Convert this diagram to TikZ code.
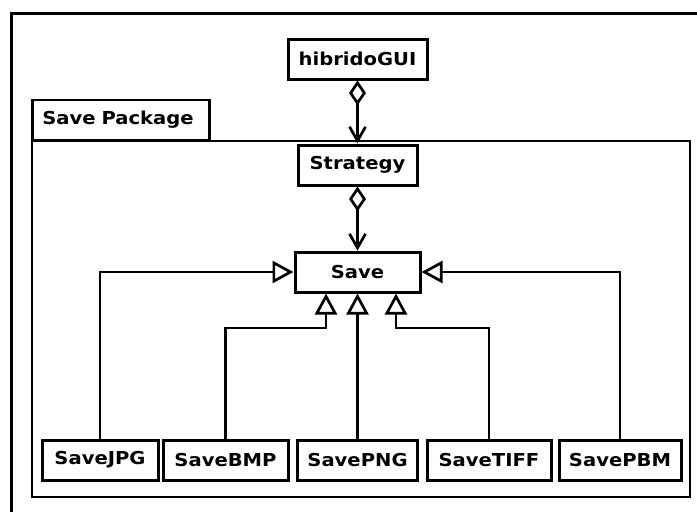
\documentclass[tikz,border=0pt]{standalone}
\usepackage{fontspec}
\setmainfont{DejaVu Sans}[FakeStretch=1.1]
\usetikzlibrary{arrows.meta}

\begin{document}
\begin{tikzpicture}[x=1pt,y=-1pt]
	\newcommand{\leafrow}{460} % centre line of the leaf classes
	\newcommand{\kneeY}{328} % height of the inner bends

	% set the styles of the classes and the links
	\tikzset{
		cls/.style={
			draw,
			line width=3pt,
			minimum height=40pt,
			inner sep=0pt,
			font=\fontsize{17.8}{20}\bfseries\selectfont
			},
		link/.style={line width=2.7pt},
		has/.style={link, {Diamond[open,length=25pt,width=17pt]}-{Straight Barb[length=14pt,width=16pt]}},
		isa/.style={link, -{Triangle[open,length=21pt,width=22pt]}}
	}

	\useasboundingbox (0,0) rectangle (697,512);
	\clip (0,0) rectangle (697,512);

	% outer frame
	\draw[line width=3pt] (11,512) |- (697,13);

	% package
	\draw[line width=2.5pt] (32,141) rectangle (690,497);
	\node[draw, line width=2.5pt, anchor=south west, minimum width=177pt, minimum height=40pt,
		inner xsep=10pt, text width=157pt, align=left,
		font=\fontsize{17.8}{20}\bfseries\selectfont] (tab) at (31,141) {Save Package};

	% classes
	\node[cls, minimum width=139pt] (gui) at (357.5,59) {hibridoGUI};
	\node[cls, minimum width=119pt] (strategy) at (357.5,165) {Strategy};
	\node[cls, minimum width=125pt] (save) at (357.5,272) {Save};

	% leaf classes
	\node[cls, minimum width=116pt] (jpg) at (100,\leafrow) {SaveJPG};
	\node[cls, minimum width=125pt] (bmp) at (225.5,\leafrow) {SaveBMP};
	\node[cls, minimum width=120pt] (png) at (357.5,\leafrow) {SavePNG};
	\node[cls, minimum width=124pt] (tiff) at (489,\leafrow) {SaveTIFF};
	\node[cls, minimum width=122pt] (pbm) at (620,\leafrow) {SavePBM};

	% aggregations
	\draw[has] (gui.south) -- (strategy.north);
	\draw[has] (strategy.south) -- (save.north);

	% generalisations
	\coordinate (leftknee) at (326,\kneeY);
	\coordinate (rightknee) at (396,\kneeY);
	\draw[isa] (jpg.north) |- (save.west);
	\draw[isa] (pbm.north) |- (save.east);
	\draw[isa] (png.north) -- (save.south);
	\draw[isa] (bmp.north) |- (leftknee) -- (leftknee |- save.south);
	\draw[isa] (tiff.north) |- (rightknee) -- (rightknee |- save.south);

\end{tikzpicture}
\end{document}
